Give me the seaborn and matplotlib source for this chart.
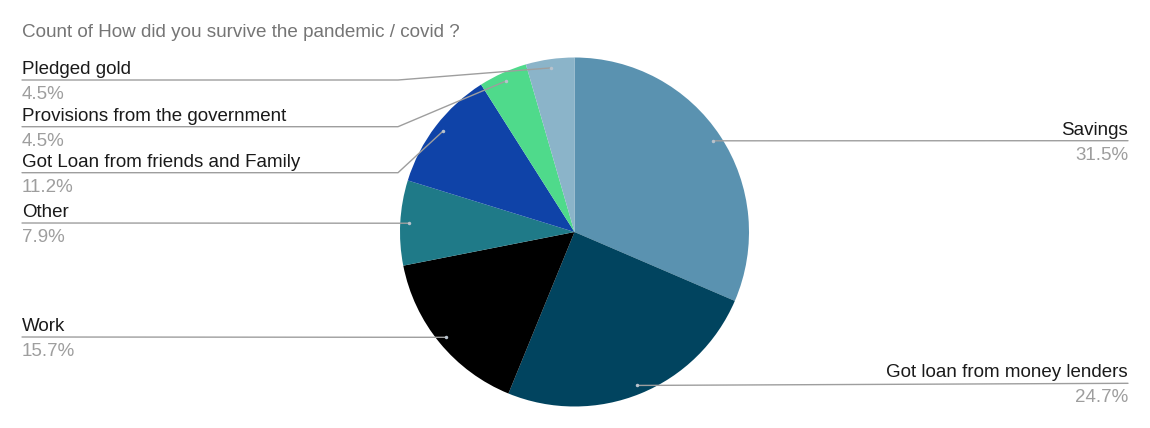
import numpy as np
import matplotlib
matplotlib.use("Agg")
import matplotlib.pyplot as plt
import seaborn as sns

sns.set_theme(style="white")
plt.rcParams['font.family'] = ['Liberation Sans', 'DejaVu Sans']

# data (counts out of 89 responses)
labels = ['Savings', 'Got loan from money lenders', 'Work', 'Other',
          'Got Loan from friends and Family', 'Provisions from the government',
          'Pledged gold']
counts = [28, 22, 14, 7, 10, 4, 4]
colors = ['#5a92b0', '#01445f', '#000000', '#1f7a88',
          '#0f43a8', '#4fda8b', '#8bb4c9']

TITLE = 'Count of How did you survive the pandemic / covid ?'
W, H = 1150, 428

# layout (pixel coordinates)
CX, CY, R = 574.5, 232, 174.5
LEFT_X, RIGHT_X, BEND_X = 22, 1128, 398
# y of each label's leader line, same order as labels
line_y = [140.7, 383.3, 337, 223, 172.7, 126.7, 80]
side = ['right', 'right', 'left', 'left', 'left', 'left', 'left']

fig = plt.figure(figsize=(W / 100, H / 100), dpi=100)
ax = fig.add_axes([0, 0, 1, 1])

# inverted y axis -> counterclock in data is clockwise on screen
wedges, _ = ax.pie(counts, colors=colors, startangle=-90, counterclock=True,
                   center=(CX, CY), radius=R, frame=True,
                   wedgeprops=dict(linewidth=0))
ax.set_xlim(0, W)
ax.set_ylim(H, 0)
ax.set_aspect('equal')
ax.axis('off')

total = sum(counts)
line_col = '#9e9e9e'
for w, lab, n, ly, sd in zip(wedges, labels, counts, line_y, side):
    mid = np.deg2rad((w.theta1 + w.theta2) / 2)
    axx = CX + 0.95 * R * np.cos(mid)
    axy = CY + 0.95 * R * np.sin(mid)
    pct = f'{100 * n / total:.1f}%'
    if sd == 'right':
        ax.plot([axx, RIGHT_X], [axy, ly], color=line_col, lw=1, zorder=3)
        tx, ha = RIGHT_X, 'right'
    else:
        if abs(axy - ly) > 2:
            ax.plot([LEFT_X, BEND_X, axx], [ly, ly, axy], color=line_col, lw=1, zorder=3)
        else:
            ax.plot([LEFT_X, axx], [ly, axy], color=line_col, lw=1, zorder=3)
        tx, ha = LEFT_X, 'left'
    ax.plot(axx, axy, 'o', ms=2.5, color='#b8c2cc', mec='none', zorder=4)
    ax.text(tx, ly - 2, lab, ha=ha, va='bottom', fontsize=13.5, color='#1a1a1a')
    ax.text(tx, ly + 6, pct, ha=ha, va='top', fontsize=13.5, color='#9e9e9e')

ax.text(LEFT_X, 32, TITLE, ha='left', va='center', fontsize=13.6, color='#757575')

fig.savefig('out.png', dpi=100)
